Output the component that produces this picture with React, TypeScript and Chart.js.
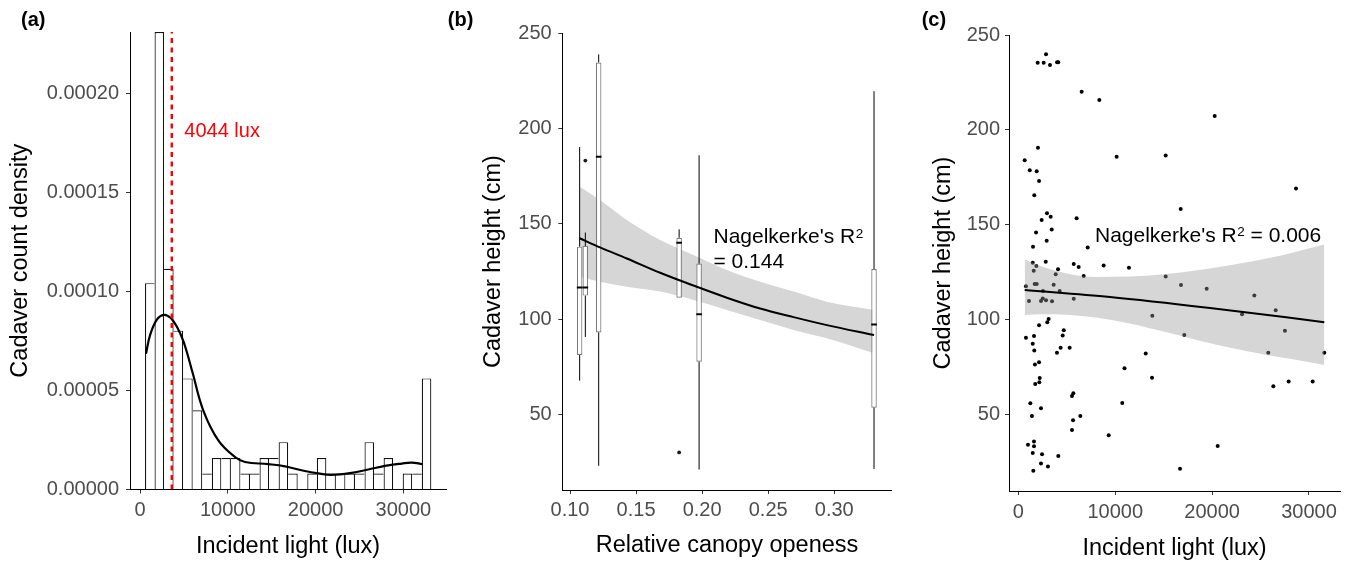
import React, { useEffect, useRef } from 'react';
import { Chart, registerables } from 'chart.js';

Chart.register(...registerables);

const FONT = '"Liberation Sans", Arial, Helvetica, sans-serif';
const TICK_COLOR = '#4d4d4d';
const TICK_FONT_SIZE = 20;
const TITLE_FONT_SIZE = 23.5;
const BAND_FILL = 'rgba(153,153,153,0.4)';

// ---------------- Panel (a): histogram of incident light ----------------
const HIST_BIN_CENTERS = [
  1114, 2201, 3288, 4375, 5462, 6549, 7636, 8723, 9810, 10897,
  11984, 13071, 14158, 15245, 16332, 17419, 18506, 19593, 20680, 21767,
  22854, 23941, 25028, 26115, 27202, 28289, 29376, 30463, 31550, 32637,
];
const HIST_DENSITY = [
  0.0001042, 0.000231, 0.0001114, 0.0000802, 0.0000561, 0.00004, 0.0000081, 0.0000159, 0.0000159, 0.0000159,
  0.0000081, 0.0000081, 0.0000159, 0.0000159, 0.0000239, 0.0000081, 0, 0.0000081, 0.0000159, 0.0000081,
  0.0000081, 0.0000081, 0.0000081, 0.0000239, 0.0000081, 0.0000159, 0, 0.0000081, 0.0000081, 0.0000561,
];
const DENSITY_X = [
  680, 1140, 1900, 2730, 3500, 4250, 5000, 6000, 7200, 8920, 10820, 11960,
  14610, 16510, 18410, 20310, 21830, 24110, 26000, 27900, 29800, 30940, 32150,
];
const DENSITY_Y = [
  0.0000685, 0.0000778, 0.0000857, 0.0000882, 0.0000866, 0.0000818, 0.0000742, 0.0000588, 0.00004, 0.0000248, 0.0000164, 0.0000139,
  0.0000128, 0.0000117, 0.0000097, 0.0000081, 0.0000074, 0.0000084, 0.0000101, 0.0000119, 0.0000131, 0.0000136, 0.0000128,
];
const THRESHOLD_LUX = 3620;
const THRESHOLD_LABEL = '4044 lux';
const A_X_TICKS = [0, 10000, 20000, 30000];
const A_X_LABELS = ['0', '10000', '20000', '30000'];
const A_Y_TICKS = [0, 0.00005, 0.0001, 0.00015, 0.0002];
const A_Y_LABELS = ['0.00000', '0.00005', '0.00010', '0.00015', '0.00020'];
const A_X_RANGE = [-1139, 34852];
const A_Y_RANGE = [0, 0.000231];

// ---------------- Panel (b): boxplots vs canopy openness ----------------
const BOX_X = [0.1073, 0.1116, 0.1217, 0.1826, 0.1977, 0.3301];
const BOX_LOW = [67.7, 90.6, 23.0, 111.2, 21.0, 21.3];
const BOX_Q1 = [81.1, 112.3, 93.0, 111.2, 77.6, 53.5];
const BOX_MED = [116.6, 116.6, 185.2, 140.1, 102.5, 97.2];
const BOX_Q3 = [138.0, 138.4, 234.7, 142.7, 129.1, 126.3];
const BOX_HIGH = [190.3, 145.4, 238.9, 147.1, 186.0, 219.6];
const OUTLIER_X = [0.1116, 0.1826];
const OUTLIER_Y = [183.2, 30.0];
const B_FIT_X = [0.1073, 0.1227, 0.143, 0.1682, 0.1934, 0.2187, 0.2439, 0.2692, 0.2944, 0.3301];
const B_FIT_Y = [142.4, 137.6, 131.8, 124.3, 117.6, 111.2, 105.5, 101.0, 96.8, 91.6];
const B_BAND_UPPER = [169.5, 162.5, 152.0, 141.5, 133.6, 125.7, 119.6, 114.4, 109.1, 104.8];
const B_BAND_LOWER = [122.2, 119.6, 117.0, 114.4, 110.0, 104.8, 99.5, 94.3, 89.9, 82.0];
const B_X_TICKS = [0.1, 0.15, 0.2, 0.25, 0.3];
const B_X_LABELS = ['0.10', '0.15', '0.20', '0.25', '0.30'];
const HEIGHT_TICKS = [50, 100, 150, 200, 250];
const HEIGHT_LABELS = ['50', '100', '150', '200', '250'];
const B_X_RANGE = [0.09417, 0.34348];
const B_Y_RANGE = [10.26, 250];
const B_R2_TEXT = "Nagelkerke's R";
const B_R2_VALUE = '= 0.144';

// ---------------- Panel (c): scatter vs incident light ----------------
const C_X = [
  2000, 2620, 2860, 3270, 4000, 4120, 6540, 8360, 2030, 660,
  10150, 1180, 1900, 2140, 1650, 2960, 2410, 3340, 6020, 1830,
  3450, 2930, 1520, 7160, 1490, 2830, 1860, 1590, 4100, 5720,
  6230, 8810, 11420, 3860, 6750, 790, 1690, 1900, 3650, 2550,
  4270, 1100, 2340, 2520, 2860, 3480, 5720, 3130, 2990, 2140,
  790, 1620, 4690, 4580, 1490, 1650, 4370, 5300, 3990, 2140,
  1720, 10960, 2210, 2170, 1750, 5680, 5540, 1240, 2340, 10730,
  1410, 6400, 5650, 5540, 9330, 1620, 1000, 1620, 1490, 2450,
  4130, 2340, 3060, 1550, 20270, 15210, 28660, 16760, 15210, 16790,
  19440, 24360, 26560, 23090, 13830, 27520, 17130, 13150, 25800, 31580,
  13800, 26320, 27900, 30380, 20580, 16690,
];
const C_Y = [
  235.4, 235.4, 239.8, 234.2, 235.6, 235.6, 220.1, 215.7, 190.6, 183.9,
  185.8, 178.7, 178.1, 173.0, 165.5, 156.0, 152.5, 154.2, 153.4, 145.8,
  147.5, 141.5, 138.4, 137.9, 129.9, 130.5, 128.2, 125.7, 126.5, 129.3,
  127.7, 128.4, 127.3, 123.8, 122.9, 117.5, 118.7, 118.7, 118.3, 115.0,
  115.0, 109.7, 109.7, 111.1, 110.2, 109.6, 110.9, 100.3, 98.6, 97.0,
  90.4, 91.3, 94.3, 91.5, 87.2, 83.7, 85.1, 85.1, 82.5, 77.4,
  76.2, 74.3, 69.1, 66.9, 66.0, 61.1, 59.6, 55.8, 53.2, 56.0,
  49.1, 49.1, 46.8, 41.7, 38.9, 35.7, 34.0, 33.2, 29.6, 28.9,
  28.0, 24.1, 22.5, 20.3, 207.3, 186.4, 169.0, 158.3, 122.6, 118.2,
  116.2, 112.6, 104.9, 102.8, 102.0, 94.1, 91.8, 82.0, 82.5, 82.5,
  69.3, 64.8, 67.3, 67.3, 33.3, 21.3,
];
const C_FIT_X = [660, 9460, 19780, 31580];
const C_FIT_Y = [115.6, 111.9, 106.1, 98.6];
const C_BAND_X = [660, 2500, 5000, 8000, 11500, 15000, 18500, 22000, 25500, 28500, 31580];
const C_BAND_UPPER = [131.7, 127.8, 124.3, 122.4, 122.6, 123.8, 125.9, 128.7, 132.0, 135.5, 139.5];
const C_BAND_LOWER = [102.4, 102.8, 102.5, 101.0, 97.9, 93.6, 89.1, 85.0, 81.4, 78.9, 76.0];
const C_X_RANGE = [-960, 33200];
const C_Y_RANGE = [9.56, 250];
const C_R2_TEXT = "Nagelkerke's R";
const C_R2_VALUE = ' = 0.006';

// ---------------- helpers ----------------
function labelFor(v: number, ticks: number[], labels: string[]) {
  const i = ticks.findIndex((t) => Math.abs(t - v) < 1e-9);
  return i >= 0 ? labels[i] : '';
}

function linAxis(o: {
  range: number[]; ticks: number[]; labels: string[]; title: string;
  horizontal: boolean; size: number; tickPad: number; titlePad: number;
}) {
  return {
    type: 'linear',
    position: o.horizontal ? 'bottom' : 'left',
    min: o.range[0],
    max: o.range[1],
    offset: false,
    afterBuildTicks: (s: any) => { s.ticks = o.ticks.map((v) => ({ value: v })); },
    afterFit: (s: any) => { if (o.horizontal) s.height = o.size; else s.width = o.size; },
    ticks: {
      color: TICK_COLOR,
      font: { family: FONT, size: TICK_FONT_SIZE },
      padding: o.tickPad,
      autoSkip: false,
      maxRotation: 0,
      minRotation: 0,
      callback: (v: number) => labelFor(v, o.ticks, o.labels),
    },
    grid: {
      display: true, drawOnChartArea: false, drawTicks: true, tickLength: 4,
      tickWidth: 1, tickColor: '#333333', color: '#333333', offset: false,
    },
    border: { display: true, color: '#000000', width: 1 },
    title: {
      display: true, text: o.title, color: '#000000',
      font: { family: FONT, size: TITLE_FONT_SIZE, lineHeight: 1 },
      padding: o.horizontal ? { top: 0, bottom: o.titlePad } : { top: o.titlePad, bottom: 0 },
    },
  };
}

function drawPanelLetter(ctx: CanvasRenderingContext2D, text: string, x: number) {
  ctx.save();
  ctx.font = `bold 20px ${FONT}`;
  ctx.fillStyle = '#000';
  ctx.textAlign = 'left';
  ctx.textBaseline = 'alphabetic';
  ctx.fillText(text, x, 26);
  ctx.restore();
}

function drawR2(ctx: CanvasRenderingContext2D, x: number, y: number, prefix: string, suffix: string) {
  ctx.save();
  ctx.fillStyle = '#000';
  ctx.textAlign = 'left';
  ctx.textBaseline = 'alphabetic';
  ctx.font = `21px ${FONT}`;
  ctx.fillText(prefix, x, y);
  const w = ctx.measureText(prefix).width;
  ctx.font = `13.5px ${FONT}`;
  ctx.fillText('2', x + w + 0.5, y - 5.5);
  const w2 = ctx.measureText('2').width;
  if (suffix) {
    ctx.font = `21px ${FONT}`;
    ctx.fillText(suffix, x + w + w2 + 0.5, y);
  }
  ctx.restore();
}

function baseOptions(pad: { right: number; top: number }, scales: any, draw: (c: any) => void) {
  return {
    options: {
      responsive: false,
      animation: false,
      devicePixelRatio: 1,
      events: [],
      layout: { padding: { left: 0, right: pad.right, top: pad.top, bottom: 0 } },
      plugins: { legend: { display: false }, tooltip: { enabled: false } },
      scales,
    },
    plugins: [{ id: 'annot', afterDraw: (chart: any) => draw(chart) }],
  };
}

// ---------------- chart builders ----------------
function buildA() {
  const scales = {
    x: linAxis({ range: A_X_RANGE, ticks: A_X_TICKS, labels: A_X_LABELS, title: 'Incident light (lux)', horizontal: true, size: 72.5, tickPad: 4.5, titlePad: 3.5 }),
    y: linAxis({ range: A_Y_RANGE, ticks: A_Y_TICKS, labels: A_Y_LABELS, title: 'Cadaver count density', horizontal: false, size: 130, tickPad: 7, titlePad: 9 }),
  };
  const { options, plugins } = baseOptions({ right: 1, top: 32 }, scales, (chart) => {
    const ctx = chart.ctx;
    drawPanelLetter(ctx, '(a)', 21);
    const x = chart.scales.x.getPixelForValue(THRESHOLD_LUX) + 12.5;
    const y = chart.scales.y.getPixelForValue(0.000181);
    ctx.save();
    ctx.font = `20px ${FONT}`;
    ctx.fillStyle = '#ff0000';
    ctx.textAlign = 'left';
    ctx.textBaseline = 'middle';
    ctx.fillText(THRESHOLD_LABEL, x, y);
    ctx.restore();
  });
  return {
    type: 'scatter',
    data: {
      datasets: [
        {
          type: 'line', order: 0,
          data: [{ x: THRESHOLD_LUX, y: A_Y_RANGE[0] }, { x: THRESHOLD_LUX, y: A_Y_RANGE[1] }],
          borderColor: '#ff0000', borderWidth: 2.4, borderDash: [5, 4.5], pointRadius: 0, fill: false,
        },
        {
          type: 'line', order: 1,
          data: DENSITY_X.map((x, i) => ({ x, y: DENSITY_Y[i] })),
          borderColor: '#000000', borderWidth: 2.2, pointRadius: 0, fill: false,
          tension: 0.4,
        },
        {
          type: 'bar', order: 3,
          data: HIST_BIN_CENTERS.map((x, i) => ({ x, y: HIST_DENSITY[i] })),
          backgroundColor: '#ffffff', borderColor: '#111111',
          borderSkipped: false, inflateAmount: 0,
          barPercentage: 1, categoryPercentage: 1, grouped: false,
          borderWidth: (c: any) => {
            const i = c.dataIndex ?? 0;
            const cur = HIST_DENSITY[i];
            const prev = i > 0 ? HIST_DENSITY[i - 1] : -1;
            const next = i < HIST_DENSITY.length - 1 ? HIST_DENSITY[i + 1] : -1;
            return { top: 1.2, bottom: 0, left: prev < cur ? 1.2 : 0, right: next > cur ? 0 : 1.2 };
          },
        },
      ],
    },
    options,
    plugins,
  };
}

function buildB() {
  const scales = {
    x: linAxis({ range: B_X_RANGE, ticks: B_X_TICKS, labels: B_X_LABELS, title: 'Relative canopy openess', horizontal: true, size: 72, tickPad: 4.7, titlePad: 4.5 }),
    y: linAxis({ range: B_Y_RANGE, ticks: HEIGHT_TICKS, labels: HEIGHT_LABELS, title: 'Cadaver height (cm)', horizontal: false, size: 115.3, tickPad: 6.6, titlePad: 35.2 }),
  };
  const whiskers: any[] = [];
  BOX_X.forEach((x, i) => {
    whiskers.push({ x, y: BOX_LOW[i] }, { x, y: BOX_Q1[i] }, { x, y: null });
    whiskers.push({ x, y: BOX_Q3[i] }, { x, y: BOX_HIGH[i] }, { x, y: null });
  });
  const { options, plugins } = baseOptions({ right: 13.3, top: 33.3 }, scales, (chart) => {
    const ctx = chart.ctx;
    drawPanelLetter(ctx, '(b)', 0.8);
    const x = chart.scales.x.getPixelForValue(0.2086);
    const y1 = chart.scales.y.getPixelForValue(139.8);
    const y2 = chart.scales.y.getPixelForValue(126.6);
    drawR2(ctx, x, y1, B_R2_TEXT, '');
    ctx.save();
    ctx.font = `21px ${FONT}`;
    ctx.fillStyle = '#000';
    ctx.textAlign = 'left';
    ctx.textBaseline = 'alphabetic';
    ctx.fillText(B_R2_VALUE, x, y2);
    ctx.restore();
  });
  return {
    type: 'scatter',
    data: {
      datasets: [
        {
          type: 'line', order: 5,
          data: B_FIT_X.map((x, i) => ({ x, y: B_BAND_UPPER[i] })),
          fill: '+1', backgroundColor: BAND_FILL, borderWidth: 0, borderColor: 'rgba(0,0,0,0)',
          pointRadius: 0, cubicInterpolationMode: 'monotone',
        },
        {
          type: 'line', order: 5,
          data: B_FIT_X.map((x, i) => ({ x, y: B_BAND_LOWER[i] })),
          fill: false, borderWidth: 0, borderColor: 'rgba(0,0,0,0)',
          pointRadius: 0, cubicInterpolationMode: 'monotone',
        },
        {
          type: 'bar', order: 4,
          data: BOX_X.map((x, i) => ({ x, y: [BOX_Q1[i], BOX_Q3[i]] })),
          backgroundColor: '#ffffff', borderColor: '#7a7a7a', borderWidth: 1.2,
          borderSkipped: false, inflateAmount: 0, barThickness: 5.5, grouped: false,
        },
        {
          type: 'line', order: 3, data: whiskers, spanGaps: false,
          borderColor: '#000000', borderWidth: 1, pointRadius: 0, fill: false,
        },
        {
          type: 'scatter', order: 2,
          data: BOX_X.map((x, i) => ({ x, y: BOX_MED[i] })),
          pointStyle: 'line', pointRadius: 2.8, borderWidth: 2, borderColor: '#000000',
        },
        {
          type: 'scatter', order: 2,
          data: OUTLIER_X.map((x, i) => ({ x, y: OUTLIER_Y[i] })),
          pointRadius: 1.9, backgroundColor: '#1a1a1a', borderWidth: 0,
        },
        {
          type: 'line', order: 0,
          data: B_FIT_X.map((x, i) => ({ x, y: B_FIT_Y[i] })),
          borderColor: '#000000', borderWidth: 2, pointRadius: 0, fill: false,
          cubicInterpolationMode: 'monotone',
        },
      ],
    },
    options,
    plugins,
  };
}

function buildC() {
  const scales = {
    x: linAxis({ range: C_X_RANGE, ticks: A_X_TICKS, labels: A_X_LABELS, title: 'Incident light (lux)', horizontal: true, size: 71, tickPad: 5, titlePad: 2 }),
    y: linAxis({ range: C_Y_RANGE, ticks: HEIGHT_TICKS, labels: HEIGHT_LABELS, title: 'Cadaver height (cm)', horizontal: false, size: 104, tickPad: 5, titlePad: 26.3 }),
  };
  const { options, plugins } = baseOptions({ right: 10, top: 35 }, scales, (chart) => {
    const ctx = chart.ctx;
    drawPanelLetter(ctx, '(c)', 16.7);
    const x = chart.scales.x.getPixelForValue(7915);
    const y = chart.scales.y.getPixelForValue(141.0);
    drawR2(ctx, x, y, C_R2_TEXT, C_R2_VALUE);
  });
  return {
    type: 'scatter',
    data: {
      datasets: [
        {
          type: 'line', order: 2,
          data: C_BAND_X.map((x, i) => ({ x, y: C_BAND_UPPER[i] })),
          fill: '+1', backgroundColor: BAND_FILL, borderWidth: 0, borderColor: 'rgba(0,0,0,0)',
          pointRadius: 0, cubicInterpolationMode: 'monotone',
        },
        {
          type: 'line', order: 2,
          data: C_BAND_X.map((x, i) => ({ x, y: C_BAND_LOWER[i] })),
          fill: false, borderWidth: 0, borderColor: 'rgba(0,0,0,0)',
          pointRadius: 0, cubicInterpolationMode: 'monotone',
        },
        {
          type: 'scatter', order: 3,
          data: C_X.map((x, i) => ({ x, y: C_Y[i] })),
          pointRadius: 2, backgroundColor: '#000000', borderWidth: 0,
        },
        {
          type: 'line', order: 0,
          data: C_FIT_X.map((x, i) => ({ x, y: C_FIT_Y[i] })),
          borderColor: '#000000', borderWidth: 2, pointRadius: 0, fill: false,
          cubicInterpolationMode: 'monotone',
        },
      ],
    },
    options,
    plugins,
  };
}

function Panel({ left, width, build }: { left: number; width: number; build: () => any }) {
  const ref = useRef<HTMLCanvasElement>(null);
  useEffect(() => {
    const chart = new Chart(ref.current as HTMLCanvasElement, build() as any);
    return () => chart.destroy();
  }, []);
  return (
    <canvas
      ref={ref}
      width={width}
      height={562}
      style={{ position: 'absolute', left, top: 0, width, height: 562, display: 'block' }}
    />
  );
}

export default function App() {
  return (
    <div style={{ position: 'absolute', left: 0, top: 0, width: 1350, height: 562, background: '#ffffff', overflow: 'hidden' }}>
      <Panel left={0} width={447} build={buildA} />
      <Panel left={447} width={458} build={buildB} />
      <Panel left={905} width={445} build={buildC} />
    </div>
  );
}
